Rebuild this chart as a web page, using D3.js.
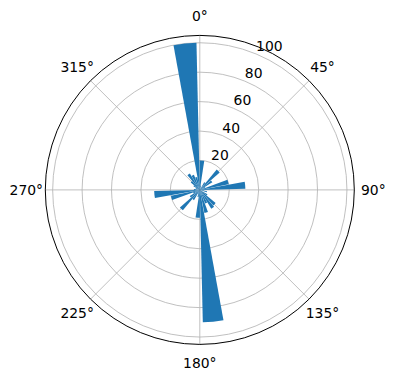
<!DOCTYPE html>
<html>
<head>
<meta charset="utf-8">
<script src="https://cdn.jsdelivr.net/npm/d3@7"></script>
<style>
  body { margin: 0; background: #fff; }
  text { font-family: "DejaVu Sans", sans-serif; font-size: 13.9px; fill: #000; }
</style>
</head>
<body>
<div id="main"></div>
<script>
const ctx = {
    WIDTH: 396,
    HEIGHT: 380,
    CX: 199.8,
    CY: 189.9,
    R: 154.5
};

// histogram bins, 10 degrees each (start of bin, degrees clockwise from north)
const binStarts = d3.range(0, 360, 10);
const counts = [20, 3, 0, 6, 18, 10, 4, 20, 31, 3,
                5, 0, 6, 14, 15, 10, 16, 90, 19, 5,
                3, 8, 18, 8, 5, 20, 31, 4, 0, 3,
                5, 8, 13, 11, 9, 100];
const barWidthDeg = 9;
const radialTicks = [20, 40, 60, 80, 100];
const angleTicks = [0, 45, 90, 135, 180, 225, 270, 315];
const rMax = 105;

function createViz(){
    const svg = d3.select("#main").append("svg")
        .attr("width", ctx.WIDTH)
        .attr("height", ctx.HEIGHT);
    const g = svg.append("g")
        .attr("transform", `translate(${ctx.CX},${ctx.CY})`);

    const rScale = d3.scaleLinear().domain([0, rMax]).range([0, ctx.R]);
    const rad = (deg) => deg * Math.PI / 180;

    // grid: circles
    g.selectAll("circle.grid")
      .data(radialTicks)
      .enter().append("circle")
      .attr("r", d => rScale(d))
      .attr("fill", "none")
      .attr("stroke", "#b0b0b0")
      .attr("stroke-width", 0.8);

    // grid: spokes
    g.selectAll("line.spoke")
      .data(angleTicks)
      .enter().append("line")
      .attr("x1", 0).attr("y1", 0)
      .attr("x2", d => ctx.R * Math.sin(rad(d)))
      .attr("y2", d => -ctx.R * Math.cos(rad(d)))
      .attr("stroke", "#b0b0b0")
      .attr("stroke-width", 0.8);

    // bars
    const arc = d3.arc()
        .innerRadius(0)
        .outerRadius(d => rScale(d.v))
        .startAngle(d => rad(d.a - 0.3))
        .endAngle(d => rad(d.a - 0.3 + barWidthDeg));

    g.selectAll("path.bar")
      .data(binStarts.map((a, i) => ({a: a, v: counts[i]})).filter(d => d.v > 0))
      .enter().append("path")
      .attr("d", arc)
      .attr("fill", "#1f77b4");

    // radial tick labels at 22.5 deg
    g.selectAll("text.rlab")
      .data(radialTicks)
      .enter().append("text")
      .attr("x", d => rScale(d) * Math.sin(rad(22.5)))
      .attr("y", d => -rScale(d) * Math.cos(rad(22.5)) - 3)
      .style("text-anchor", "start")
      .text(d => d);

    // angle labels
    g.selectAll("text.alab")
      .data(angleTicks)
      .enter().append("text")
      .attr("x", d => (ctx.R + 19) * Math.sin(rad(d)))
      .attr("y", d => -(ctx.R + 19) * Math.cos(rad(d)))
      .attr("dy", "0.36em")
      .style("text-anchor", "middle")
      .text(d => d + "°");

    // outer spine
    g.append("circle")
      .attr("r", ctx.R)
      .attr("fill", "none")
      .attr("stroke", "#000")
      .attr("stroke-width", 1);
}

createViz();
</script>
</body>
</html>
